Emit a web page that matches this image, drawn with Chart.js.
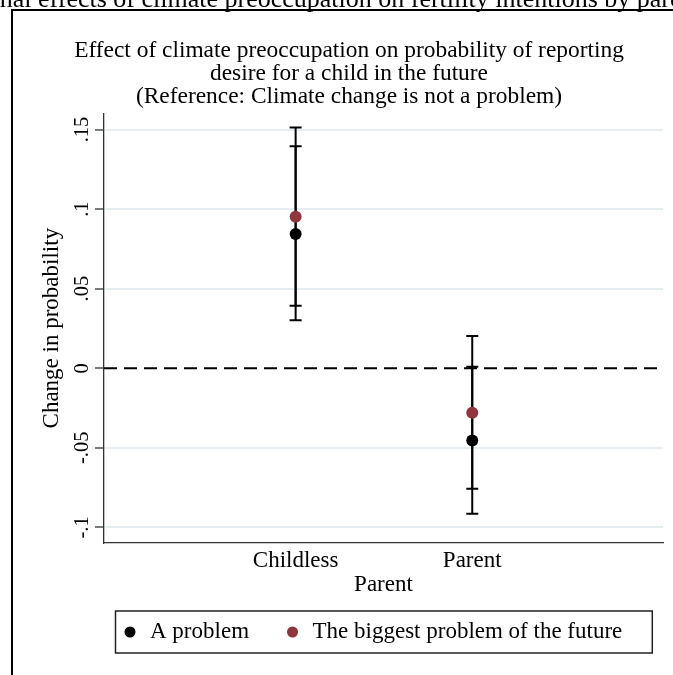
<!DOCTYPE html>
<html>
<head>
<meta charset="utf-8">
<title>Climate preoccupation and fertility intentions</title>
<script src="https://cdn.jsdelivr.net/npm/chart.js@4.4.1/dist/chart.umd.min.js"></script>
<style>
  html, body { margin: 0; padding: 0; background: #fff; overflow: hidden; }
  canvas { display: block; }
</style>
</head>
<body>
<canvas id="my-chart" width="698" height="675"></canvas>
<script>
'use strict';

// ******** DATA *******

let groups = ['Childless', 'Parent'];
let seriesNames = ['A problem', 'The biggest problem of the future'];

// "A problem" - estimate and 95% CI
let problemEst = [0.0843, -0.0454];
let problemLow = [0.0301, -0.0914];
let problemHigh = [0.1395, 0.0010];

// "The biggest problem of the future" - estimate and 95% CI
let biggestEst = [0.0952, -0.0279];
let biggestLow = [0.0393, -0.0757];
let biggestHigh = [0.1513, 0.0203];

let yTicks = [-0.1, -0.05, 0, 0.05, 0.1, 0.15];
let yTickLabels = ['-.1', '-.05', '0', '.05', '.1', '.15'];

let titleLines = [
  'Effect of climate preoccupation on probability of reporting',
  'desire for a child in the future',
  '(Reference: Climate change is not a problem)'
];
let topTitle = 'Marginal effects of climate preoccupation on fertility intentions by parental status';
let yTitle = 'Change in probability';
let xTitle = 'Parent';

// ******** STYLE *******

const serif = '"Liberation Serif", "Times New Roman", Times, serif';
const black = '#000000';
const maroon = '#90353b';
const gridColor = '#e7eef2';
const axisColor = '#333333';
const legendShift = 40.4; // Stata puts the keys a little left of the plot centre

Chart.defaults.font.family = serif;
Chart.defaults.color = black;

// Canvas Element for Chart.js
let ctx = document.getElementById('my-chart');


// ******** HELPERS *******

function pointsOf(values) {
  return values.map((v, i) => ({ x: i, y: v }));
}

// vertical CI segments, split by a null point so they do not join up
function ciSegments(low, high) {
  let pts = [];
  for (let i = 0; i < low.length; i++) {
    pts.push({ x: i, y: low[i] }, { x: i, y: high[i] }, { x: i + 0.5, y: null });
  }
  return pts;
}

function capsOf(low, high) {
  return pointsOf(low).concat(pointsOf(high));
}


// ******** PLUGIN: frame, zero line, legend box *******

let stataDecor = {
  id: 'stataDecor',
  afterUpdate(chart) {
    // title centred on the whole graph region (it runs past the window)
    chart.titleBlock.right = chart.width;
    chart.legend.left += legendShift;
    chart.legend.right += legendShift;
  },
  beforeDatasetsDraw(chart) {
    let c = chart.ctx;
    let area = chart.chartArea;
    let y0 = chart.scales.y.getPixelForValue(0);
    c.save();
    c.setLineDash([13, 7]);
    c.lineWidth = 2;
    c.strokeStyle = black;
    c.beginPath();
    c.moveTo(area.left, y0);
    c.lineTo(area.right, y0);
    c.stroke();
    c.restore();
  },
  afterDraw(chart) {
    let c = chart.ctx;
    c.save();

    // outer graph frame
    c.lineWidth = 2;
    c.strokeStyle = black;
    c.strokeRect(12, 10, chart.width - 24, chart.height + 20);

    // overall title, mostly cut off at the top
    c.font = '26px ' + serif;
    c.fillStyle = black;
    c.textAlign = 'left';
    c.textBaseline = 'alphabetic';
    let startX = 38 - c.measureText('Marginal ').width;
    c.fillText(topTitle, startX, 7);

    // box round the legend
    let hb = chart.legend.legendHitBoxes;
    if (hb && hb.length) {
      let first = hb[0];
      let last = hb[hb.length - 1];
      let cy = first.top + first.height / 2;
      let left = first.left + legendShift - 6;
      let right = last.left + legendShift + last.width + 30;
      c.lineWidth = 1.5;
      c.strokeStyle = '#222222';
      c.strokeRect(left, cy - 21, right - left, 42);
    }
    c.restore();
  }
};


// ******** CHART *******

function renderChart() {
  let chartObject = {
    type: 'scatter',
    data: {
      datasets: [
        {
          label: seriesNames[0],
          data: pointsOf(problemEst),
          backgroundColor: black,
          borderColor: black,
          borderWidth: 0,
          pointRadius: 6,
          pointStyle: 'circle'
        },
        {
          label: seriesNames[1],
          data: pointsOf(biggestEst),
          backgroundColor: maroon,
          borderColor: maroon,
          borderWidth: 0,
          pointRadius: 6,
          pointStyle: 'circle'
        },
        {
          label: '',
          data: ciSegments(problemLow, problemHigh),
          showLine: true,
          spanGaps: false,
          borderColor: black,
          borderWidth: 2,
          pointRadius: 0
        },
        {
          label: '',
          data: ciSegments(biggestLow, biggestHigh),
          showLine: true,
          spanGaps: false,
          borderColor: black,
          borderWidth: 2,
          pointRadius: 0
        },
        {
          label: '',
          data: capsOf(problemLow, problemHigh),
          pointStyle: 'line',
          pointRadius: 6,
          borderColor: black,
          borderWidth: 2
        },
        {
          label: '',
          data: capsOf(biggestLow, biggestHigh),
          pointStyle: 'line',
          pointRadius: 6,
          borderColor: black,
          borderWidth: 2
        }
      ]
    },
    options: {
      responsive: false,
      devicePixelRatio: 1,
      animation: false,
      events: [],
      layout: {
        padding: { top: 0, left: 0, right: 35, bottom: 21.5 }
      },
      scales: {
        x: {
          type: 'linear',
          min: -1.085,
          max: 2.08,
          afterBuildTicks: (scale) => {
            scale.ticks = groups.map((g, i) => ({ value: i }));
          },
          afterFit: (scale) => {
            scale.height = 42.5;
          },
          border: { display: true, color: axisColor, width: 1.3 },
          grid: { display: false, drawTicks: false },
          ticks: {
            autoSkip: false,
            maxRotation: 0,
            padding: 6.9,
            color: black,
            font: { size: 23, lineHeight: 1 },
            callback: (value) => groups[value]
          },
          title: {
            display: true,
            text: xTitle,
            color: black,
            font: { size: 23, lineHeight: 1 },
            padding: { top: 0, bottom: -11 }
          }
        },
        y: {
          type: 'linear',
          min: -0.1098,
          max: 0.1602,
          afterBuildTicks: (scale) => {
            scale.ticks = yTicks.map((v) => ({ value: v }));
          },
          afterFit: (scale) => {
            scale.width = 104;
          },
          border: { display: true, color: axisColor, width: 1.3 },
          grid: {
            color: (c) => (c.tick && c.tick.value === 0) ? 'rgba(0,0,0,0)' : gridColor,
            lineWidth: 2,
            tickColor: axisColor,
            tickWidth: 1.3,
            tickLength: 9
          },
          ticks: {
            autoSkip: false,
            minRotation: 90,
            maxRotation: 90,
            crossAlign: 'center',
            padding: -3.5,
            color: black,
            font: { size: 20.5 },
            callback: (value, index) => yTickLabels[index]
          },
          title: {
            display: true,
            text: yTitle,
            color: black,
            font: { size: 23, lineHeight: 1 },
            padding: { top: 40.5, bottom: 0 }
          }
        }
      },
      plugins: {
        title: {
          display: true,
          text: titleLines,
          color: black,
          font: { size: 23.4, lineHeight: '23px', weight: 'normal' },
          padding: { top: 39, bottom: 5.3 }
        },
        legend: {
          position: 'bottom',
          labels: {
            usePointStyle: true,
            boxWidth: 17,
            boxHeight: 7.8,
            padding: 35,
            color: black,
            font: { size: 23 },
            filter: (item) => item.text !== ''
          }
        },
        tooltip: { enabled: false }
      }
    },
    plugins: [stataDecor]
  };

  const myChart = new Chart(ctx, chartObject);
}

renderChart();
</script>
</body>
</html>
